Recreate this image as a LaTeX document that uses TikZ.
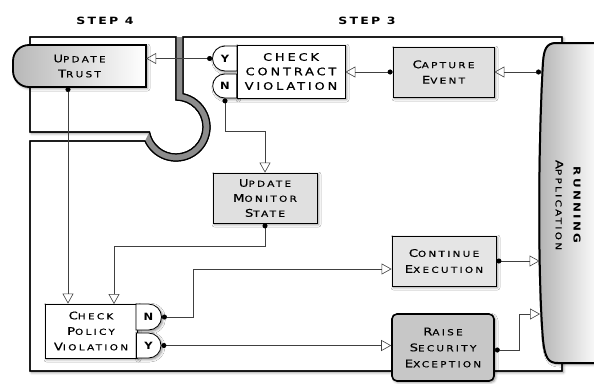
\documentclass[tikz,border=0pt]{standalone}
\usepackage{fontspec}
\setmainfont{DejaVu Sans}[FakeStretch=1.25, LetterSpace=28, FakeBold=0.7]
\newfontfamily\tabfont{DejaVu Sans}[FakeStretch=1.15]
\newfontfamily\stepfont{DejaVu Sans}[FakeStretch=1.25, LetterSpace=22]
\newfontfamily\appfont{DejaVu Sans}[FakeStretch=1.25, LetterSpace=25]
\usetikzlibrary{arrows.meta,shapes.misc,shadows.blur,calc}
\newcommand\Bg{\fontsize{10.5}{12}\selectfont}
\newcommand\Sm{\fontsize{8.3}{12}\selectfont}
\newcommand\sk[2]{{\Bg #1}{\Sm #2}}
\begin{document}
\begin{tikzpicture}[x=1pt,y=1pt,
  shd/.style={blur shadow={shadow xshift=1.5pt,shadow yshift=-1.5pt,shadow blur radius=2.5pt,shadow opacity=45}},
  panel/.style={fill=white, draw=black, line width=1.2pt, shd},
  panelline/.style={draw=black, line width=1.2pt},
  box/.style={draw=black, line width=0.8pt, align=center, inner sep=0pt, font=\fontsize{8.3}{15.5}\selectfont, shd},
  lgray/.style={box, fill=black!12},
  wbox/.style={box, fill=white},
  tabbox/.style={box, fill=white, rounded rectangle, font=\tabfont\bfseries\fontsize{10}{12}\selectfont},
  rsebox/.style={box, fill=black!22, line width=1.6pt, rounded corners=5pt, font=\fontsize{8.3}{16}\selectfont},
  conn/.style={draw=black!75, line width=0.6pt, {Circle[length=5pt,color=black]}-{Triangle[open,length=10pt,width=11pt]}},
  steplbl/.style={font=\stepfont\bfseries\fontsize{10}{12}\selectfont, inner sep=0pt}
]
\useasboundingbox (0,0) rectangle (594,-383);

% step labels
\node[steplbl] (s4) at (105,-21) {STEP 4};
\node[steplbl] (s3) at (367,-21) {STEP 3};

% panels
\path[panel] (30,-37) -- (176,-37) -- (176,-100) arc[start angle=90,end angle=-169.3,radius=27pt] -- (30,-132) -- cycle;
\path[panel] (30,-141) -- (145,-141) arc[start angle=-155.7,end angle=78.1,radius=34pt] -- (183,-37) -- (562,-37) -- (562,-371) -- (30,-371) -- cycle;
\fill[black!45] (176,-37) -- (176,-100) arc[start angle=90,end angle=-169.3,radius=27pt] -- (145,-141) arc[start angle=-155.7,end angle=78.1,radius=34pt] -- (183,-37) -- cycle;
\path[panelline] (30,-37) -- (176,-37) -- (176,-100) arc[start angle=90,end angle=-169.3,radius=27pt] -- (30,-132) -- cycle;
\path[panelline] (30,-141) -- (145,-141) arc[start angle=-155.7,end angle=78.1,radius=34pt] -- (183,-37) -- (562,-37) -- (562,-371) -- (30,-371) -- cycle;

% running application
\begin{scope}
\clip (0,0) rectangle (594,-383);
\path[draw=black, line width=2pt, left color=black!30, right color=white, shd]
  (600,-43) -- (556,-43) .. controls (546,-43) and (544,-50) .. (543,-62)
  .. controls (538,-150) and (538,-280) .. (543,-340)
  .. controls (545,-358) and (548,-363) .. (558,-363) -- (600,-363) -- cycle;
\end{scope}
\node[rotate=-90, align=center, inner sep=0pt, font=\fontsize{8.3}{18}\selectfont] (app) at (568,-205)
  {{\appfont\bfseries\fontsize{9.5}{12}\selectfont RUNNING}\\\sk{A}{PPLICATION}};
\coordinate (appA) at (541,-72);
\coordinate (appB) at (539.5,-261);
\coordinate (appC) at (540,-314);

% update trust
\path[draw=black, line width=1.8pt, left color=black!28, right color=white, shd]
  (146,-45) -- (29,-45) arc[start angle=90,end angle=180,radius=16pt] -- (13,-71)
  arc[start angle=180,end angle=270,radius=16pt] -- (146,-87) -- cycle;
\node[align=center, inner sep=0pt, minimum width=133pt, minimum height=42pt, font=\fontsize{8.3}{15}\selectfont] (trust) at (79.5,-66) {\sk{U}{PDATE}\\\sk{T}{RUST}};
\coordinate (trustout) at (68,-87);

% check contract violation
\node[tabbox, rounded rectangle east arc=none, minimum width=24pt, minimum height=25pt] (cy) at (225,-58.5) {Y};
\node[tabbox, rounded rectangle east arc=none, minimum width=24pt, minimum height=24pt] (cn) at (225,-86) {N};
\node[wbox, minimum width=108pt, minimum height=53pt, font=\fontsize{10.3}{14.5}\selectfont] (ccv) at (291,-71.5) {CHECK\\CONTRACT\\VIOLATION};

% capture event
\node[lgray, minimum width=101pt, minimum height=50pt] (cap) at (443.5,-72) {\sk{C}{APTURE}\\\sk{E}{VENT}};

% update monitor state
\node[lgray, minimum width=104pt, minimum height=50pt, font=\fontsize{8.3}{15}\selectfont] (ums) at (265,-198) {\sk{U}{PDATE}\\\sk{M}{ONITOR}\\\sk{S}{TATE}};

% check policy violation
\node[wbox, minimum width=92pt, minimum height=54pt] (cpv) at (91,-331) {\sk{C}{HECK}\\\sk{P}{OLICY}\\\sk{V}{IOLATION}};
\node[tabbox, rounded rectangle west arc=none, minimum width=23pt, minimum height=26pt] (pn) at (148.5,-317) {N};
\node[tabbox, rounded rectangle west arc=none, minimum width=23pt, minimum height=25pt] (py) at (148.5,-345.5) {Y};
\coordinate (cpvin) at (114,-304);

% continue execution
\node[lgray, fill=black!10, minimum width=104pt, minimum height=50pt, font=\fontsize{8.3}{16}\selectfont] (ce) at (444,-261) {\sk{C}{ONTINUE}\\\sk{E}{XECUTION}};
\coordinate (cein) at ($(ce.west)+(0,-8)$);

% raise security exception
\node[rsebox, minimum width=102pt, minimum height=67pt] (rse) at (443,-347.5) {\sk{R}{AISE}\\\sk{S}{ECURITY}\\\sk{E}{XCEPTION}};
\coordinate (rseout) at ($(rse.east)+(0,-2.5)$);

% connectors
\draw[conn] (appA) -- (appA -| cap.east);
\draw[conn] (cap.west) -- (cap.west -| ccv.east);
\draw[conn] (cy.west) -- (cy.west -| trust.east);
\draw[conn] (cn.south) -- ++(0,-33) -| (ums.north);
\draw[conn] (trustout) -- (trustout |- cpv.north);
\draw[conn] (ums.south) -- ++(0,-23) -| (cpvin);
\draw[conn] (pn.east) -- ++(31,0) |- (cein);
\draw[conn] (py.east) -- (py.east -| rse.west);
\draw[conn] (ce.east) -- (ce.east -| appB);
\draw[conn] (rseout) -- ++(24,0) |- (appC);
\end{tikzpicture}
\end{document}
